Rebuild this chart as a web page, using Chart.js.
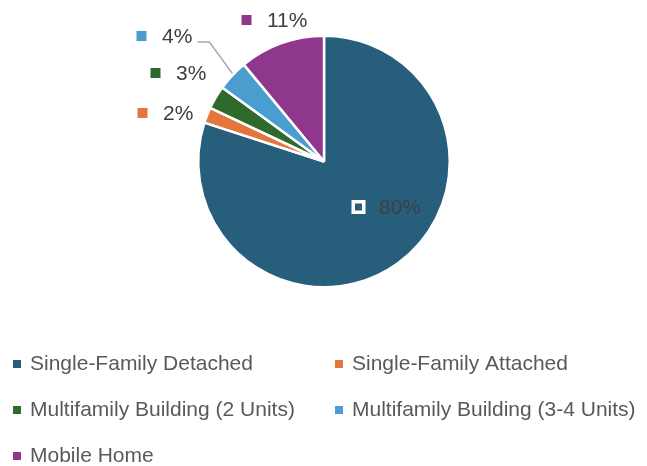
<!DOCTYPE html>
<html>
<head>
<meta charset="utf-8">
<script src="https://cdn.jsdelivr.net/npm/chart.js@4"></script>
<style>
    html, body { margin: 0; padding: 0; background: #ffffff; }
    #wrap { width: 647px; height: 466px; }
</style>
</head>
<body>
<div id="wrap"><canvas id="housingChart" width="647" height="466"></canvas></div>
<script>
// data
const categories = [
    'Single-Family Detached',
    'Single-Family Attached',
    'Multifamily Building (2 Units)',
    'Multifamily Building (3-4 Units)',
    'Mobile Home'
];
const shares = [80, 2, 3, 4, 11];
const sliceColors = ['#275e7c', '#e2763b', '#2e6a2c', '#4a9ecf', '#8e378c'];

// label placement relative to pie centre (square marker centre)
const labelLayout = [
    { dx: 34.5, dy: 45.5, inside: true },
    { dx: -181.5, dy: -48.5 },
    { dx: -168.5, dy: -88.5 },
    { dx: -182.5, dy: -125.5, leader: true },
    { dx: -77.5, dy: -141.5 }
];

const FONT = '"Liberation Sans", Arial, sans-serif';

// ==================== DATA LABELS ====================

const sliceLabels = {
    id: 'sliceLabels',
    afterDatasetsDraw(chart) {
        const ctx = chart.ctx;
        const meta = chart.getDatasetMeta(0);
        ctx.save();
        ctx.font = '21px ' + FONT;
        ctx.textBaseline = 'middle';
        ctx.textAlign = 'left';
        meta.data.forEach((arc, i) => {
            const p = arc.getProps(['x', 'y', 'outerRadius', 'startAngle', 'endAngle'], true);
            const lay = labelLayout[i];
            const mx = p.x + lay.dx;
            const my = p.y + lay.dy;
            const text = shares[i] + '%';

            // marker square
            if (lay.inside) {
                ctx.fillStyle = '#ffffff';
                ctx.fillRect(mx - 7, my - 7, 14, 14);
                ctx.fillStyle = sliceColors[i];
                ctx.fillRect(mx - 3.5, my - 3.5, 7, 7);
            } else {
                ctx.fillStyle = sliceColors[i];
                ctx.fillRect(mx - 5, my - 5, 10, 10);
            }

            ctx.fillStyle = '#404040';
            const tx = mx + 20.5;
            ctx.fillText(text, tx, my + 1);

            // leader line
            if (lay.leader) {
                const w = ctx.measureText(text).width;
                const mid = (p.startAngle + p.endAngle) / 2;
                const ex = p.x + Math.cos(mid) * p.outerRadius;
                const ey = p.y + Math.sin(mid) * p.outerRadius;
                ctx.strokeStyle = '#a6a6a6';
                ctx.lineWidth = 1.5;
                ctx.beginPath();
                ctx.moveTo(tx + w + 5, my + 6);
                ctx.lineTo(tx + w + 17, my + 6);
                ctx.lineTo(ex, ey - 2);
                ctx.stroke();
            }
        });
        ctx.restore();
    }
};

// ==================== LEGEND ====================

const gridLegend = {
    id: 'gridLegend',
    afterDraw(chart) {
        const ctx = chart.ctx;
        const colX = [13, 335];
        const rowY = [364, 410, 456];
        ctx.save();
        ctx.font = '21px ' + FONT;
        ctx.textBaseline = 'middle';
        ctx.textAlign = 'left';
        categories.forEach((name, i) => {
            const x = colX[i % 2];
            const y = rowY[Math.floor(i / 2)];
            ctx.fillStyle = sliceColors[i];
            ctx.fillRect(x, y - 4, 8, 8);
            ctx.fillStyle = '#595959';
            ctx.fillText(name, x + 17, y);
        });
        ctx.restore();
    }
};

// ==================== CHART ====================

new Chart(document.getElementById('housingChart'), {
    type: 'pie',
    data: {
        labels: categories,
        datasets: [{
            data: shares,
            backgroundColor: sliceColors,
            borderColor: '#ffffff',
            borderWidth: 2.5
        }]
    },
    options: {
        responsive: false,
        animation: false,
        devicePixelRatio: 1,
        layout: {
            padding: { left: 197, right: 196, top: 34, bottom: 177 }
        },
        plugins: {
            legend: { display: false },
            tooltip: { enabled: false }
        }
    },
    plugins: [sliceLabels, gridLegend]
});
</script>
</body>
</html>
